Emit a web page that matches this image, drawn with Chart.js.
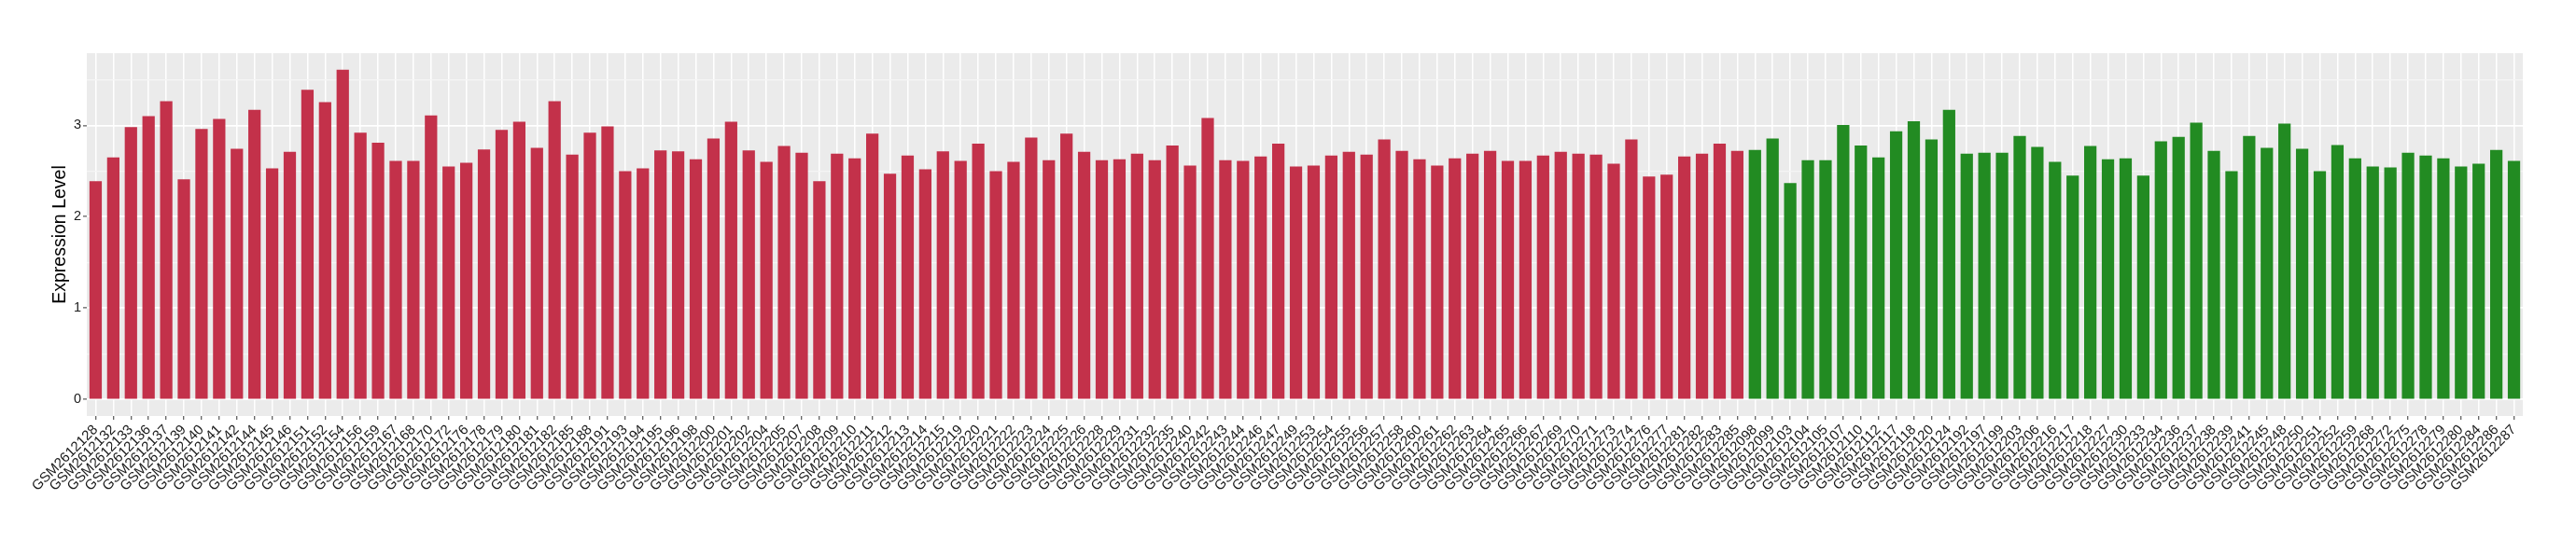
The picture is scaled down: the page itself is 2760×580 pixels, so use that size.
<!DOCTYPE html>
<html lang="en">
<head>
<meta charset="UTF-8">
<title>Expression Level by Sample</title>
<script src="https://cdn.jsdelivr.net/npm/chart.js"></script>
<style>
body {
  margin: 0;
  padding: 0;
  background: #ffffff;
}

.chart-wrap {
  width: 2760px;
  height: 580px;
}
</style>
</head>
<body>

<div class="chart-wrap">
  <canvas id="exprChart" width="2760" height="580"></canvas>
</div>

<script>
// sample ids (GSM2612xxx) and expression values, per group
const redSamples = ['128','132','133','136','137','139','140','141','142','144',
  '145','146','151','152','154','156','159','167','168','170',
  '172','176','178','179','180','181','182','185','188','191',
  '193','194','195','196','198','200','201','202','204','205',
  '207','208','209','210','211','212','213','214','215','219',
  '220','221','222','223','224','225','226','228','229','231',
  '232','235','240','242','243','244','246','247','249','253',
  '254','255','256','257','258','260','261','262','263','264',
  '265','266','267','269','270','271','273','274','276','277',
  '281','282','283','285'];
const redValues = [2.39, 2.65, 2.98, 3.10, 3.265, 2.41, 2.96, 3.07, 2.745, 3.17,
  2.53, 2.71, 3.39, 3.255, 3.61, 2.92, 2.81, 2.61, 2.61, 3.11,
  2.55, 2.59, 2.735, 2.95, 3.04, 2.755, 3.265, 2.68, 2.92, 2.99,
  2.50, 2.53, 2.725, 2.715, 2.63, 2.857, 3.04, 2.725, 2.60, 2.775,
  2.70, 2.39, 2.69, 2.64, 2.91, 2.47, 2.67, 2.52, 2.715, 2.61,
  2.80, 2.50, 2.60, 2.867, 2.62, 2.91, 2.71, 2.62, 2.63, 2.69,
  2.62, 2.78, 2.56, 3.08, 2.62, 2.61, 2.66, 2.80, 2.55, 2.56,
  2.67, 2.71, 2.68, 2.845, 2.72, 2.63, 2.56, 2.64, 2.69, 2.72,
  2.61, 2.61, 2.67, 2.71, 2.69, 2.68, 2.58, 2.845, 2.44, 2.46,
  2.66, 2.69, 2.80, 2.72];

const greenSamples = ['098','099','103','104','105','107','110','112','117','118',
  '120','124','192','197','199','203','206','216','217','218',
  '227','230','233','234','236','237','238','239','241','245',
  '248','250','251','252','259','268','272','275','278','279',
  '280','284','286','287'];
const greenValues = [2.73, 2.855, 2.37, 2.62, 2.62, 3.005, 2.78, 2.65, 2.935, 3.045,
  2.845, 3.17, 2.69, 2.70, 2.70, 2.885, 2.765, 2.60, 2.45, 2.775,
  2.63, 2.64, 2.45, 2.825, 2.875, 3.03, 2.72, 2.50, 2.885, 2.755,
  3.02, 2.745, 2.50, 2.785, 2.64, 2.55, 2.54, 2.70, 2.67, 2.64,
  2.55, 2.58, 2.73, 2.61];

const yTicks = [0, 1, 2, 3];

const RED = '#C3314A';
const GREEN = '#228B22';

const labels = redSamples.concat(greenSamples).map(id => 'GSM2612' + id);
const values = redValues.concat(greenValues);
const colors = redSamples.map(() => RED).concat(greenSamples.map(() => GREEN));

// grey ggplot-like panel behind the plot area
const panelBg = {
  id: 'panelBg',
  beforeDraw(chart) {
    const a = chart.chartArea;
    const ctx = chart.ctx;
    ctx.save();
    ctx.fillStyle = '#EBEBEB';
    ctx.fillRect(a.left, a.top, a.right - a.left, a.bottom - a.top);
    ctx.restore();
  }
};

const isMajor = v => yTicks.includes(Math.round(v * 1000) / 1000);

const ctx = document.getElementById('exprChart').getContext('2d');
new Chart(ctx, {
  type: 'bar',
  data: {
    labels: labels,
    datasets: [{
      label: 'Expression Level',
      data: values,
      backgroundColor: colors,
      borderWidth: 0,
      barPercentage: 0.7,
      categoryPercentage: 1.0
    }]
  },
  options: {
    responsive: false,
    animation: false,
    devicePixelRatio: 1,
    layout: {
      padding: { top: 57, right: 57, bottom: 0, left: 0 }
    },
    plugins: {
      legend: { display: false },
      tooltip: { enabled: false }
    },
    scales: {
      x: {
        type: 'category',
        offset: true,
        border: { display: false },
        grid: {
          offset: false,
          color: '#FFFFFF',
          lineWidth: 1.5,
          drawTicks: true,
          tickLength: 4,
          tickColor: '#333333',
          tickWidth: 1
        },
        ticks: {
          autoSkip: false,
          minRotation: 45,
          maxRotation: 45,
          padding: 2,
          color: '#1A1A1A',
          font: { family: 'Liberation Sans', size: 15 }
        },
        afterFit(scale) {
          scale.height = 134;
        }
      },
      y: {
        min: -0.18,
        max: 3.79,
        border: { display: false },
        afterBuildTicks(scale) {
          scale.ticks = scale.ticks.filter(t => Math.abs(t.value * 2 - Math.round(t.value * 2)) < 1e-6);
        },
        grid: {
          color: c => isMajor(c.tick.value) ? '#FFFFFF' : '#F5F5F5',
          lineWidth: c => isMajor(c.tick.value) ? 1.8 : 1.2,
          drawTicks: true,
          tickLength: 4,
          tickColor: c => isMajor(c.tick.value) ? '#333333' : 'rgba(0,0,0,0)',
          tickWidth: 1
        },
        ticks: {
          stepSize: 0.5,
          padding: 2,
          color: '#1A1A1A',
          font: { family: 'Liberation Sans', size: 14.5 },
          callback: v => isMajor(v) ? String(Math.round(v)) : ''
        },
        title: {
          display: true,
          text: 'Expression Level',
          color: '#000000',
          font: { family: 'Liberation Sans', size: 19.5 },
          padding: { top: 53, bottom: 0 }
        },
        afterFit(scale) {
          scale.width = 93;
        }
      }
    }
  },
  plugins: [panelBg]
});
</script>

</body>
</html>
